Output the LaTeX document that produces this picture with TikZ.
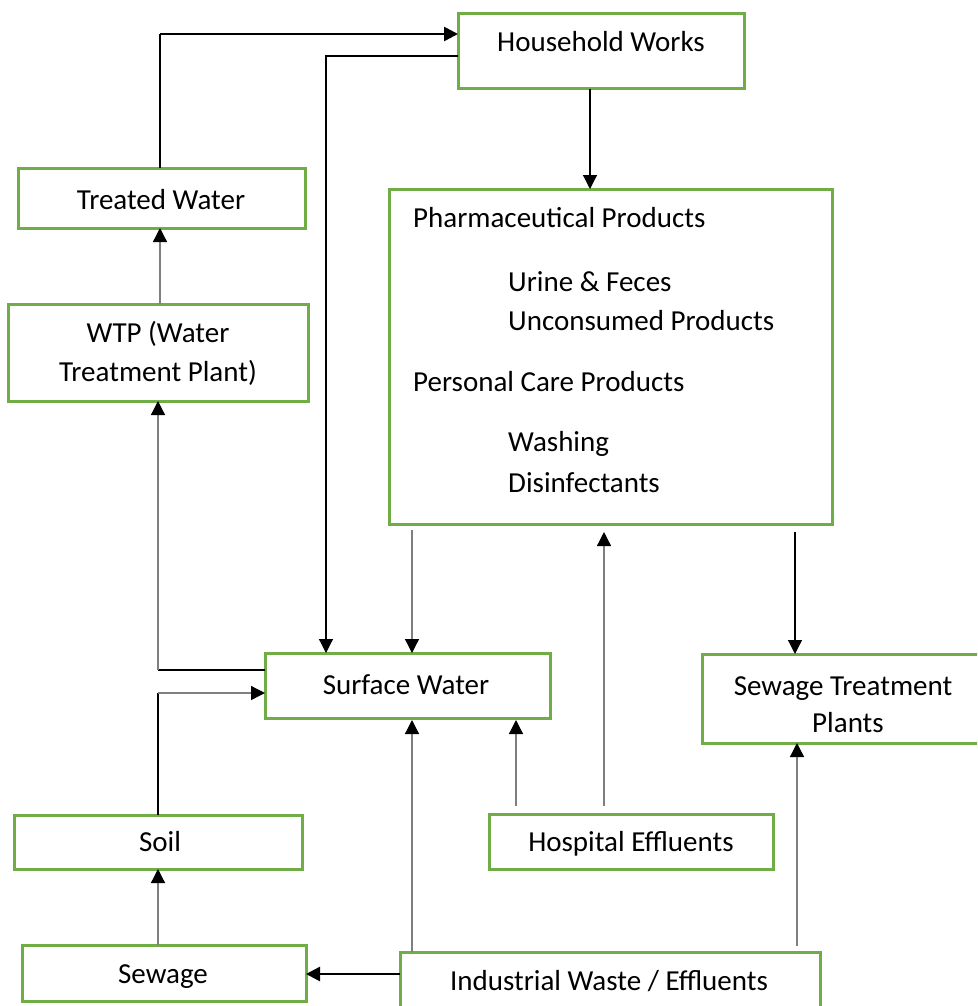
\documentclass[tikz,border=0pt]{standalone}
\usepackage{fontspec}
\setmainfont{Carlito}
\usetikzlibrary{arrows.meta}
\definecolor{grn}{HTML}{70AD47}
\definecolor{gry}{HTML}{7F7F7F}
\begin{document}
\begin{tikzpicture}[x=1pt,y=-1pt,
  box/.style={draw=grn,line width=3pt,inner sep=0pt,outer sep=0pt},
  lbl/.style={anchor=base,inner sep=0pt,font=\fontsize{29}{35}\selectfont},
  lbll/.style={anchor=base west,inner sep=0pt,font=\fontsize{29}{35}\selectfont},
  tip/.style={-{Triangle[length=14pt,width=14pt,color=black]}},
  thn/.style={line width=1.2pt,black},
  thg/.style={line width=1.3pt,gry},
  thk/.style={line width=2.6pt,black}]
\useasboundingbox (0,0) rectangle (977,1006);
\clip (0,0) rectangle (977,1006);
% boxes
\node[box,minimum width=286pt,minimum height=75pt] (hw) at (601,51.5) {};
\node[box,minimum width=287pt,minimum height=60pt] (tw) at (161.5,198) {};
\node[box,minimum width=300pt,minimum height=97pt] (wtp) at (158,352.5) {};
\node[box,minimum width=443pt,minimum height=335pt] (ph) at (610.5,356.5) {};
\node[box,minimum width=285pt,minimum height=65pt] (sw) at (407.5,685.5) {};
\node[box,minimum width=283pt,minimum height=89pt] (stp) at (843.5,698.5) {};
\node[box,minimum width=288pt,minimum height=54pt] (soil) at (158,842) {};
\node[box,minimum width=284pt,minimum height=55pt] (hosp) at (631,841.5) {};
\node[box,minimum width=284pt,minimum height=56pt] (sew) at (164,973) {};
\node[box,minimum width=420pt,minimum height=60pt] (ind) at (610,982) {};
% texts
\node[lbl] (thw) at (601,52) {Household Works};
\node[lbl] (ttw) at (161,209) {Treated Water};
\node[lbl] (twtp1) at (158,342) {WTP (Water};
\node[lbl] (twtp2) at (158,381) {Treatment Plant)};
\node[lbll] (tp1) at (413,227) {Pharmaceutical Products};
\node[lbll] (tp2) at (508,291) {Urine \& Feces};
\node[lbll] (tp3) at (508,330) {Unconsumed Products};
\node[lbll] (tp4) at (413,391) {Personal Care Products};
\node[lbll] (tp5) at (508,451) {Washing};
\node[lbll] (tp6) at (508,492) {Disinfectants};
\node[lbl] (tsw) at (406,694) {Surface Water};
\node[lbl] (tstp1) at (843,695) {Sewage Treatment};
\node[lbl] (tstp2) at (848,732) {Plants};
\node[lbl] (tsoil) at (160,851) {Soil};
\node[lbl] (thosp) at (631,851) {Hospital Effluents};
\node[lbl] (tsew) at (163,983) {Sewage};
\node[lbl] (tind) at (609,990) {Industrial Waste / Effluents};
% bend points
\coordinate (b1) at (160,34);
\coordinate (b2) at (326,56);
\coordinate (b5) at (158,670);
\coordinate (b6) at (158,693);
% connectors
\draw[thn] ([xshift=-1.5pt]tw.north) -- (b1);
\draw[thk,tip] (b1) -- (b1 -| hw.west);
\draw[thn,tip] ([yshift=-4.5pt]hw.west) -- (b2) -- (b2 |- sw.north);
\draw[thn,tip] ([xshift=-11pt]hw.south) -- ([xshift=-20.5pt]ph.north);
\draw[thg,tip] ([xshift=2pt]wtp.north) -- ([xshift=-1.5pt]tw.south);
\draw[thk] ([yshift=15.5pt]sw.west) -- (b5);
\draw[thg,tip] (b5) -- (wtp.south);
\draw[thk] (soil.north) -- (b6);
\draw[thg,tip] (b6) -- ([yshift=-7.5pt]sw.west);
\draw[thg,tip] ([xshift=-6pt]sew.north) -- (soil.south);
\draw[thg,tip] ([xshift=-198.5pt,yshift=-6pt]ph.south) -- ([xshift=4.5pt]sw.north);
\draw[thg,tip] ([xshift=-27pt,yshift=8pt]hosp.north) -- ([xshift=-6.5pt,yshift=-8pt]ph.south);
\draw[thn,tip] ([xshift=184.5pt,yshift=-8pt]ph.south) -- ([xshift=-48.5pt]stp.north);
\draw[thg,tip] ([xshift=-115pt,yshift=8pt]hosp.north) -- ([xshift=108.5pt,yshift=-2pt]sw.south);
\draw[thg,tip] ([xshift=-198pt]ind.north) -- ([xshift=4.5pt,yshift=-2pt]sw.south);
\draw[thk,tip] ([yshift=8pt]ind.west) -- ([yshift=-1pt]sew.east);
\draw[thg,tip] ([xshift=187pt,yshift=6pt]ind.north) -- ([xshift=-46.5pt]stp.south);
\end{tikzpicture}
\end{document}
